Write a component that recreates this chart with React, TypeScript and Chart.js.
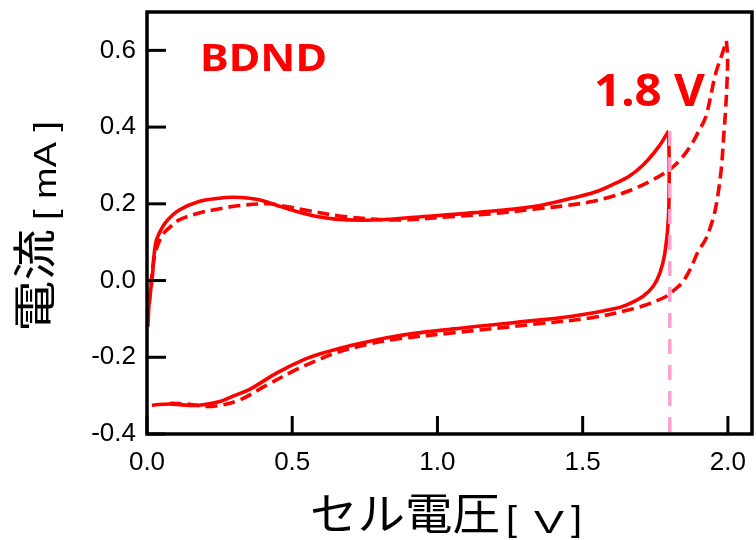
import React, { useEffect, useRef } from "react";
import { Chart, registerables } from "chart.js";

Chart.register(...registerables);

// Tick values
const xTicks = [0.0, 0.5, 1.0, 1.5, 2.0];
const yTicks = [-0.4, -0.2, 0.0, 0.2, 0.4, 0.6];

// 1.8 V window (solid) - charge sweep
const v18Charge = [0.003, 0.008, 0.017, 0.03, 0.05, 0.071, 0.111, 0.179, 0.24, 0.3, 0.382, 0.463, 0.52, 0.585, 0.65, 0.733, 0.82, 0.923, 1.126, 1.33, 1.464, 1.54, 1.6, 1.66, 1.708, 1.762, 1.796];
const i18Charge = [-0.12, -0.05, 0.0, 0.098, 0.135, 0.158, 0.184, 0.206, 0.214, 0.217, 0.211, 0.192, 0.179, 0.167, 0.16, 0.157, 0.159, 0.165, 0.177, 0.193, 0.215, 0.23, 0.249, 0.272, 0.301, 0.349, 0.39];
// 1.8 V window (solid) - discharge sweep
const v18Discharge = [1.796, 1.798, 1.795, 1.783, 1.766, 1.743, 1.708, 1.65, 1.6, 1.464, 1.26, 1.057, 0.855, 0.692, 0.6, 0.544, 0.449, 0.355, 0.3, 0.247, 0.179, 0.12, 0.084, 0.04, 0.017];
const i18Discharge = [0.39, 0.289, 0.159, 0.072, 0.02, -0.015, -0.041, -0.064, -0.075, -0.093, -0.11, -0.126, -0.145, -0.171, -0.19, -0.205, -0.24, -0.283, -0.3, -0.316, -0.325, -0.324, -0.322, -0.323, -0.325];

// 2.0 V window (dashed) - charge sweep
const v20Charge = [0.008, 0.025, 0.05, 0.08, 0.111, 0.179, 0.25, 0.313, 0.42, 0.48, 0.544, 0.678, 0.855, 1.057, 1.2, 1.33, 1.45, 1.532, 1.6, 1.667, 1.73, 1.789, 1.83, 1.87, 1.9, 1.924, 1.958, 1.98, 1.995];
const i20Charge = [-0.06, 0.06, 0.115, 0.14, 0.158, 0.176, 0.187, 0.195, 0.2, 0.193, 0.184, 0.167, 0.158, 0.167, 0.175, 0.186, 0.196, 0.206, 0.219, 0.236, 0.258, 0.284, 0.31, 0.349, 0.39, 0.427, 0.54, 0.59, 0.625];
// 2.0 V window (dashed) - discharge sweep
const v20Discharge = [1.995, 1.999, 1.997, 1.992, 1.985, 1.978, 1.965, 1.951, 1.925, 1.897, 1.87, 1.842, 1.81, 1.789, 1.73, 1.667, 1.532, 1.33, 1.057, 0.855, 0.75, 0.652, 0.58, 0.517, 0.409, 0.313, 0.219, 0.138, 0.08];
const i20Discharge = [0.625, 0.58, 0.52, 0.444, 0.37, 0.297, 0.22, 0.167, 0.11, 0.075, 0.029, -0.006, -0.028, -0.041, -0.06, -0.075, -0.097, -0.114, -0.136, -0.153, -0.168, -0.188, -0.21, -0.231, -0.274, -0.313, -0.328, -0.322, -0.32];

// Cut-off marker at 1.8 V
const cutoffV = [1.8, 1.8];
const cutoffI = [0.39, -0.4];

// Texts
const sampleLabel = "BDND";
const windowLabel = "1.8 V";
const xTitleMain = "セル電圧";
const xTitleUnit = "V";
const yTitleMain = "電流";
const yTitleUnit = "[ mA ]";

const RED = "#ff0000";
const PINK = "#ff9fcc";

const mk = (xs: number[], ys: number[]) => xs.map((x, i) => ({ x, y: ys[i] }));

function drawStretched(ctx: CanvasRenderingContext2D, text: string, font: string, x: number, y: number, targetW: number, rotate = false) {
  ctx.save();
  ctx.font = font;
  ctx.textBaseline = "alphabetic";
  ctx.textAlign = "left";
  const w = ctx.measureText(text).width;
  const sx = targetW / w;
  ctx.translate(x, y);
  if (rotate) ctx.rotate(-Math.PI / 2);
  ctx.scale(sx, 1);
  ctx.fillText(text, 0, 0);
  ctx.restore();
}

const framePlugin = {
  id: "frameAndText",
  afterDraw(chart: any) {
    const { ctx, chartArea: a, scales } = chart;
    ctx.save();
    ctx.strokeStyle = "#000";
    ctx.lineWidth = 3.5;
    ctx.strokeRect(a.left, a.top, a.right - a.left, a.bottom - a.top);
    ctx.lineWidth = 3;
    yTicks.forEach((v) => {
      const py = scales.y.getPixelForValue(v);
      ctx.beginPath();
      ctx.moveTo(a.left, py);
      ctx.lineTo(a.left + 19, py);
      ctx.stroke();
    });
    xTicks.forEach((v) => {
      const px = scales.x.getPixelForValue(v);
      ctx.beginPath();
      ctx.moveTo(px, a.bottom);
      ctx.lineTo(px, a.bottom - 18);
      ctx.stroke();
    });

    // annotations
    ctx.fillStyle = RED;
    drawStretched(ctx, sampleLabel, "bold 38px 'Noto Sans'", 200, 71, 127);
    drawStretched(ctx, windowLabel, "bold 44px 'Noto Sans'", 594, 106, 111);

    // axis titles
    ctx.fillStyle = "#000";
    drawStretched(ctx, xTitleMain, "44px 'Noto Sans CJK JP'", 310, 530, 190);
    const bf = "35px 'Liberation Sans'";
    drawStretched(ctx, "[", bf, 506, 531, 11);
    drawStretched(ctx, xTitleUnit, "31px 'Liberation Sans'", 534, 533, 30);
    drawStretched(ctx, "]", bf, 571, 531, 11);
    drawStretched(ctx, yTitleMain, "44px 'Noto Sans CJK JP'", 51, 332, 103, true);
    drawStretched(ctx, yTitleUnit, "31px 'Liberation Sans'", 56, 220, 99, true);
    ctx.restore();
  },
};

export default function App() {
  const ref = useRef<HTMLCanvasElement | null>(null);
  useEffect(() => {
    if (!ref.current) return;
    const solid = { borderColor: RED, borderWidth: 3.6, tension: 0.35, borderJoinStyle: "round" as const, fill: false };
    const dashed = { ...solid, borderDash: [12, 6] };
    const chart = new Chart(ref.current, {
      type: "line",
      data: {
        datasets: [
          { data: mk(cutoffV, cutoffI), borderColor: PINK, borderWidth: 3.5, borderDash: [15, 11], tension: 0 },
          { data: mk(v20Charge, i20Charge), ...dashed },
          { data: mk(v20Discharge, i20Discharge), ...dashed },
          { data: mk(v18Charge, i18Charge), ...solid },
          { data: mk(v18Discharge, i18Discharge), ...solid },
        ] as any,
      },
      options: {
        animation: false,
        responsive: false,
        devicePixelRatio: 1,
        layout: { padding: { top: 12, right: 4, left: 0, bottom: 0 } },
        elements: { point: { radius: 0, hoverRadius: 0 } },
        plugins: { legend: { display: false }, tooltip: { enabled: false } },
        scales: {
          x: {
            type: "linear",
            min: 0,
            max: 2.083,
            grid: { display: false, drawTicks: false },
            border: { display: false },
            afterBuildTicks: (s: any) => { s.ticks = xTicks.map((v) => ({ value: v })); },
            afterFit: (s: any) => { s.height = 106; s.paddingLeft = 0; s.paddingRight = 0; },
            ticks: {
              padding: 13,
              color: "#000",
              font: { family: "'Liberation Sans'", size: 26 },
              maxRotation: 0,
              callback: (v: any) => Number(v).toFixed(1),
            },
          },
          y: {
            type: "linear",
            min: -0.4,
            max: 0.7,
            grid: { display: false, drawTicks: false },
            border: { display: false },
            afterBuildTicks: (s: any) => { s.ticks = yTicks.map((v) => ({ value: v })); },
            afterFit: (s: any) => { s.width = 147; s.paddingTop = 0; s.paddingBottom = 0; },
            ticks: {
              padding: 11,
              color: "#000",
              font: { family: "'Liberation Sans'", size: 26 },
              callback: (v: any) => Number(v).toFixed(1),
            },
          },
        },
      },
      plugins: [framePlugin],
    });
    return () => chart.destroy();
  }, []);
  return (
    <div style={{ position: "fixed", left: 0, top: 0, width: 756, height: 540, background: "#fff" }}>
      <canvas ref={ref} width={756} height={540} style={{ display: "block" }} />
    </div>
  );
}
